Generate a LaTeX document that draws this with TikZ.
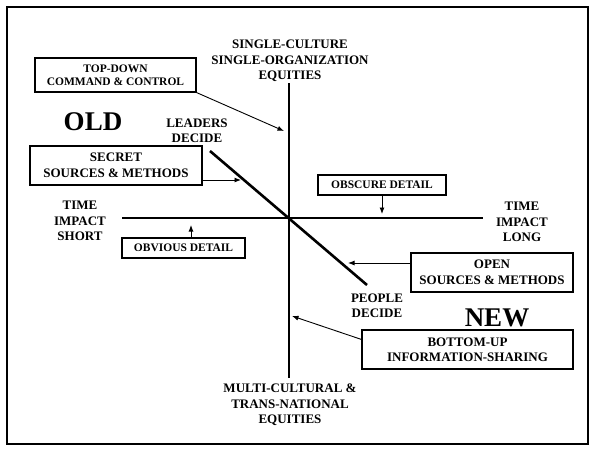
\documentclass[tikz,border=0pt]{standalone}
\usepackage{fontspec}
\setmainfont{Liberation Serif}
\usetikzlibrary{arrows.meta}
\begin{document}
\begin{tikzpicture}[x=1pt,y=-1pt,
  lbl/.style={font=\bfseries\fontsize{13}{15.5}\selectfont, align=center, inner sep=0pt},
  boxed/.style={draw, line width=1.1pt, align=center, inner sep=0pt, font=\bfseries\fontsize{13}{15.5}\selectfont},
  small/.style={font=\bfseries\fontsize{11.5}{13.5}\selectfont},
  axis/.style={line width=2.6pt},
  ptr/.style={line width=0.9pt, -{Latex[length=6.5pt,width=5pt]}},
  big/.style={font=\bfseries\fontsize{27}{30}\selectfont, inner sep=0pt}]
\useasboundingbox (0,0) rectangle (594,451);
\fill[white] (0,0) rectangle (594,451);
% frame
\draw[line width=2.6pt] (7,7) rectangle (588,444);

% axes
\coordinate (vtop) at (289,83);
\coordinate (vbot) at (289,378);
\coordinate (hl) at (122,218);
\coordinate (hr) at (483,218);
\coordinate (dtop) at (210,151);
\coordinate (dbot) at (367,285);
\draw[axis] (vtop) -- (vbot);
\draw[axis] (hl) -- (hr);
\draw[axis] (dtop) -- (dbot);

% axis labels
\node[lbl] (single) at (290,61) {SINGLE-CULTURE\\SINGLE-ORGANIZATION\\EQUITIES};
\node[lbl] (multi) at (290,405) {MULTI-CULTURAL \&\\TRANS-NATIONAL\\EQUITIES};
\node[lbl] (tshort) at (80,221) {TIME\\IMPACT\\SHORT};
\node[lbl] (tlong) at (522,222) {TIME\\IMPACT\\LONG};
\node[lbl] (leaders) at (197,131) {LEADERS\\DECIDE};
\node[lbl] (people) at (377,306) {PEOPLE\\DECIDE};
\node[big] (old) at (93,122) {OLD};
\node[big] (new) at (497,318) {NEW};

% boxes
\node[boxed, small, minimum width=161pt, minimum height=34pt] (topdown) at (115.5,75) {TOP-DOWN\\COMMAND \& CONTROL};
\node[boxed, minimum width=172pt, minimum height=39pt] (secret) at (116,165.5) {SECRET\\SOURCES \& METHODS};
\node[boxed, small, minimum width=123pt, minimum height=20pt] (obvious) at (183.5,248) {OBVIOUS DETAIL};
\node[boxed, small, minimum width=128pt, minimum height=20pt] (obscure) at (382,185) {OBSCURE DETAIL};
\node[boxed, minimum width=162pt, minimum height=39pt] (open) at (492,272.5) {OPEN\\SOURCES \& METHODS};
\node[boxed, minimum width=211pt, minimum height=39pt] (bottom) at (467.5,349.5) {BOTTOM-UP\\INFORMATION-SHARING};

% pointers
\coordinate (p1) at (284,131);
\coordinate (p2) at (241,180);
\coordinate (p3) at (191,225);
\coordinate (p4) at (382,214);
\coordinate (p5) at (348,263);
\coordinate (p6) at (292,316);
\draw[ptr] (topdown.south east) -- (p1);
\draw[ptr] (secret.east |- p2) -- (p2);
\draw[ptr] (obvious.north -| p3) -- (p3);
\draw[ptr] (obscure.south -| p4) -- (p4);
\draw[ptr] (open.west |- p5) -- (p5);
\draw[ptr] ([yshift=-10pt]bottom.north west) -- (p6);
\end{tikzpicture}
\end{document}
